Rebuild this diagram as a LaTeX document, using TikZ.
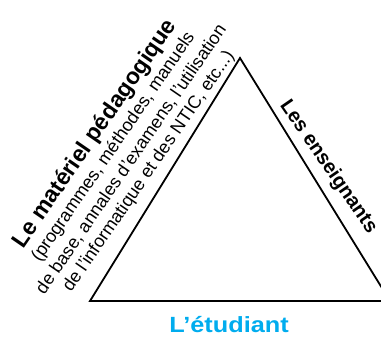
\documentclass[tikz,border=0pt]{standalone}
\usepackage{fontspec}
\setmainfont{Liberation Sans}
\definecolor{cyanb}{RGB}{0,172,238}
\begin{document}
\begin{tikzpicture}[x=1pt,y=1pt,
  edge/.style={line width=1.8pt,line join=miter},
  boldtxt/.style={font=\fontsize{23}{26}\selectfont\bfseries,inner sep=0pt},
  smalltxt/.style={font=\fontsize{18}{21}\selectfont,inner sep=0pt}]
\useasboundingbox (0,0) rectangle (381,337);
\clip (0,0) rectangle (381,337);
\coordinate (A) at (90,36);
\coordinate (B) at (240,279);
\coordinate (C) at (390,36);
\draw[edge] (A) -- (B) -- (C) -- cycle;
\node[font=\fontsize{22}{24}\selectfont\bfseries,text=cyanb,xscale=1.15,anchor=base,inner sep=0pt] (etu) at (229,4.7) {L'étudiant};
\node[font=\fontsize{20}{24}\selectfont\bfseries,rotate=-55.5,anchor=base,inner sep=0pt] (ens) at (324,167) {Les enseignants};
\begin{scope}[shift={(149,165.5)},rotate=55.5,transform shape]
\node[boldtxt] (mat) at (0.5,65.5) {Le matériel pédagogique};
\node[smalltxt] (l1) at (0,43) {(programmes, méthodes, manuels};
\node[smalltxt] (l2) at (0,21.5) {de base, annales d'examens, l'utilisation};
\node[smalltxt] (l3) at (0,0) {de l'informatique et des NTIC, etc...)};
\end{scope}
\end{tikzpicture}
\end{document}
